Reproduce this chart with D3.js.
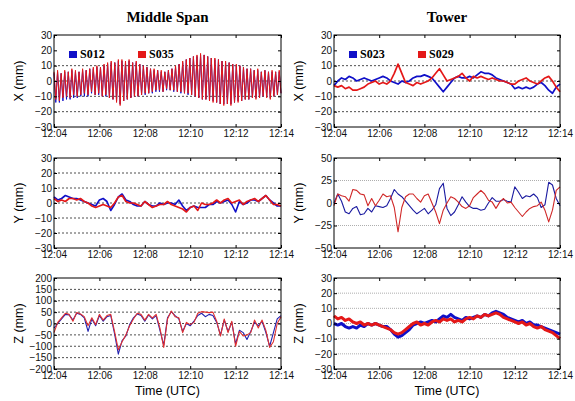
<!DOCTYPE html>
<html>
<head>
<meta charset="utf-8">
<script src="https://cdn.jsdelivr.net/npm/d3@7"></script>
<style>
  body { margin: 0; background: #fff; }
  .tick text { font-family: "Liberation Sans", Arial, sans-serif; font-size: 10px; fill: #111; }
  .tick line { stroke: #000; }
</style>
</head>
<body>
<div id="divChart"></div>
<script>
// time axis
var timeTicks = ["12:04", "12:06", "12:08", "12:10", "12:12", "12:14"];
var columnTitles = ["Middle Span", "Tower"];
var rowLabels = ["X (mm)", "Y (mm)", "Z (mm)"];
var legendNames = [["S012", "S035"], ["S023", "S029"]];

// Middle Span, X  (fast oscillation: peak / trough pairs)
var spanX_S012 = [5,-14, 6,-14, 5,-13, 6,-12, 6,-12, 7,-11, 6,-11, 6,-10, 7,-10, 7,-10,
  8,-8, 8,-9, 9,-9, 9,-10, 10,-10, 11,-11, 12,-12, 12,-13, 13,-15, 13,-13,
  12,-12, 13,-11, 12,-10, 12,-10, 11,-9, 10,-9, 9,-8, 8,-8, 7,-7, 7,-7,
  6,-7, 6,-6, 7,-6, 8,-7, 9,-7, 11,-8, 12,-8, 14,-9, 15,-9, 16,-10,
  16,-11, 17,-12, 17,-12, 16,-13, 15,-13, 14,-14, 14,-15, 13,-15, 12,-15, 12,-15,
  11,-14, 10,-13, 10,-13, 9,-12, 8,-12, 8,-11, 7,-11, 7,-11, 6,-10, 7,-10,
  6,-11, 6,-10, 6,-9, 6,-8];
var spanX_S035 = [6,-12, 7,-13, 5,-11, 7,-10, 6,-11, 8,-9, 7,-10, 6,-9, 8,-8, 7,-9,
  8,-7, 9,-9, 10,-8, 9,-10, 11,-9, 12,-11, 13,-12, 12,-14, 14,-16, 14,-13,
  13,-12, 14,-11, 12,-10, 13,-10, 11,-9, 10,-8, 9,-8, 8,-7, 8,-6, 7,-6,
  7,-7, 6,-5, 7,-6, 8,-6, 10,-7, 11,-7, 13,-8, 14,-8, 15,-9, 16,-10,
  17,-11, 18,-12, 17,-12, 16,-13, 15,-14, 15,-14, 14,-15, 13,-16, 13,-15, 12,-16,
  11,-14, 11,-14, 10,-13, 9,-12, 8,-12, 8,-11, 7,-12, 8,-11, 6,-10, 7,-11,
  6,-12, 7,-10, 6,-9, 7,-8];

// Tower, X
var towerX_S023 = [-3,0,2,1,3,2,0,1,2,1, 0,1,2,3,2,0,-1,-2,0,-1, 0,2,3,3,4,3,2,-1,-4,-7,
  -4,-1,2,3,2,2,3,2,4,6, 5,5,4,2,1,0,-1,-2,-5,-4, -5,-4,-5,-4,-2,-1,-3,-6,-8,-4, -2];
var towerX_S029 = [-3,-4,-3,-5,-4,-6,-6,-5,-4,-2, -1,0,-2,-1,-2,0,5,11,5,-1, -2,-3,-1,-2,-1,0,2,5,8,4,
  0,1,2,3,5,2,0,3,2,3, 2,1,2,1,0,0,-1,-2,-2,0, 1,2,0,-1,-2,0,2,3,0,-4, -7];

// Middle Span, Y
var spanY_S012 = [4,2,3,5,4,3,3,2,1,0, -1,-2,2,3,1,-5,-1,4,6,2, 1,-1,-2,-2,1,-1,-2,-2,0,-1,
  0,0,-1,2,-2,-5,-3,-2,-3,-3, -3,-1,-1,1,0,1,2,-1,-6,1, -1,0,2,2,1,3,5,2,0,-2, -2];
var spanY_S035 = [3,1,2,1,3,3,2,3,1,0, -2,-3,-2,-1,-2,-3,0,4,5,1, 0,0,-1,-2,1,-1,-3,-2,-1,-1,
  1,-1,-2,-3,-4,-6,-3,-2,-5,0, -1,-1,0,2,0,2,3,0,1,2, -1,1,2,3,1,3,5,2,-1,-1, -2];

// Tower, Y
var towerY_S023 = [0,10,2,-10,-12,-6,-4,-13,-12,-6, -10,-3,-4,-5,-3,5,15,10,7,2, -3,-8,-12,-9,-6,-12,-8,-2,16,22,
  -6,-14,-10,-2,7,1,-4,-6,-6,-8, -7,0,6,2,2,4,2,1,18,12, 5,8,7,10,6,-5,-2,23,20,5, -3];
var towerY_S029 = [-3,10,8,7,2,15,14,10,9,-3, 5,-3,3,10,7,8,-5,-32,-5,7, 10,10,5,1,8,10,0,-10,-23,-8,
  0,7,5,1,-4,-6,-3,6,10,14, 10,3,1,-6,1,5,0,1,-5,-10, -15,-10,-6,-4,-3,1,-8,-21,-8,14, 18];

// Middle Span, Z
var spanZ_S012 = [-20,0,20,40,38,15,45,40,25,-35, 20,-10,35,10,30,35,-45,-135,-75,-55, -5,25,42,35,10,38,20,35,-30,-95,
  25,52,35,20,-35,0,-10,10,35,45, 30,40,35,5,-50,15,-35,5,-90,-30, -40,-70,-35,5,-10,10,-40,-100,-40,20, 35];
var spanZ_S035 = [-40,5,25,45,40,10,48,42,30,-10, 25,-5,40,15,35,40,-35,-115,-80,-50, -10,20,45,40,15,40,25,40,-20,-105,
  20,55,30,25,-40,5,-5,5,45,52, 50,48,50,10,-55,20,-40,10,-100,-35, -55,-50,-40,15,-20,15,-30,-105,-80,0, 30];

// Tower, Z
var towerZ_S023 = [0,-1,0,-2,-3,-2,-3,-1,-2,0, -1,0,-1,-2,-2,-4,-7,-9,-8,-6, -4,-1,0,1,0,1,2,1,3,5,
  4,6,4,3,2,4,3,4,5,4, 6,5,7,8,7,6,4,3,2,1, 2,0,1,-1,-1,-2,-3,-4,-5,-6, -7];
var towerZ_S029 = [5,3,4,2,3,1,0,1,-1,0, -1,0,-1,-2,-3,-4,-6,-7,-6,-4, -2,0,1,-1,0,-1,1,2,1,3,
  2,3,1,2,1,3,4,3,5,4, 6,5,6,7,6,4,3,2,1,0, 1,-1,0,-2,-3,-2,-4,-5,-6,-8, -10];

// y ranges and ticks
var ticks30 = [-30, -20, -10, 0, 10, 20, 30];
var ticks50 = [-50, -25, 0, 25, 50];
var ticks200 = [-200, -150, -100, -50, 0, 50, 100, 150, 200];

function init()
{
    var width = 575, height = 401;
    var blue = "#1010c8", red = "#e41818";

    var svg = d3.select("#divChart").append("svg")
        .attr("width", width)
        .attr("height", height);

    var parseT = d3.timeParse("%H:%M");
    var tickDates = timeTicks.map(parseT);
    var t0 = tickDates[0], t1 = tickDates[tickDates.length - 1];

    var cols = [{x0: 54, x1: 281}, {x0: 334, x1: 560}];
    var rows = [{y0: 35, y1: 127}, {y0: 158, y1: 248}, {y0: 278, y1: 369}];

    var panels = [
        {c: 0, r: 0, dom: [-30, 30], ticks: ticks30, grid: [10, 0, -10, -20], gridColor: "#222", dash: "2,2",
         series: [{v: spanX_S012, col: blue, w: 1.0}, {v: spanX_S035, col: red, w: 1.0}]},
        {c: 1, r: 0, dom: [-30, 30], ticks: ticks30, grid: [10, 0, -10, -20], gridColor: "#222", dash: "2,2",
         series: [{v: towerX_S023, col: blue, w: 1.7}, {v: towerX_S029, col: red, w: 1.7}]},
        {c: 0, r: 1, dom: [-30, 30], ticks: ticks30, grid: [20, 10, 0, -10, -20], gridColor: "#222", dash: "2,2",
         series: [{v: spanY_S012, col: blue, w: 1.6}, {v: spanY_S035, col: red, w: 1.6}]},
        {c: 1, r: 1, dom: [-50, 50], ticks: ticks50, grid: [25, -25], gridColor: "#999", dash: "1,1",
         series: [{v: towerY_S023, col: "#1a1aa0", w: 1.1}, {v: towerY_S029, col: "#d02828", w: 1.1}]},
        {c: 0, r: 2, dom: [-200, 200], ticks: ticks200, grid: [150, 100, 50, 0, -50, -100, -150], gridColor: "#222", dash: "2,2",
         series: [{v: spanZ_S012, col: "#2020b0", w: 1.1}, {v: spanZ_S035, col: "#e03030", w: 1.1}]},
        {c: 1, r: 2, dom: [-30, 30], ticks: ticks30, grid: [20, 10, 0, -10, -20], gridColor: "#999", dash: "1,1",
         series: [{v: towerZ_S023, col: blue, w: 3.0}, {v: towerZ_S029, col: red, w: 3.0}]}
    ];

    panels.forEach(function(p)
    {
        var x0 = cols[p.c].x0, x1 = cols[p.c].x1;
        var y0 = rows[p.r].y0, y1 = rows[p.r].y1;
        var g = svg.append("g");

        var scaleX = d3.scaleTime().domain([t0, t1]).range([x0, x1]);
        var scaleY = d3.scaleLinear().domain(p.dom).range([y1, y0]);

        g.append("rect")
            .attr("x", x0).attr("y", y0)
            .attr("width", x1 - x0).attr("height", y1 - y0)
            .style("fill", "#fff");

        // dashed grid
        g.selectAll("line.grid-line").data(p.grid).join("line")
            .classed("grid-line", true)
            .attr("x1", x0).attr("x2", x1)
            .attr("y1", function(d){ return scaleY(d); })
            .attr("y2", function(d){ return scaleY(d); })
            .style("stroke", p.gridColor)
            .style("stroke-width", 0.8)
            .style("stroke-dasharray", p.dash);

        // series, blue under red
        p.series.forEach(function(s)
        {
            var n = s.v.length;
            var line = d3.line()
                .x(function(d, i){ return scaleX(new Date(+t0 + i * (t1 - t0) / (n - 1))); })
                .y(function(d){ return scaleY(d); });
            g.append("path")
                .attr("d", line(s.v))
                .style("fill", "none")
                .style("stroke", s.col)
                .style("stroke-width", s.w)
                .style("stroke-linejoin", "round");
        });

        // axes, MATLAB style ticks pointing inside
        g.append("g")
            .attr("transform", "translate(0," + y1 + ")")
            .call(d3.axisBottom(scaleX).tickValues(tickDates).tickFormat(d3.timeFormat("%H:%M"))
                .tickSizeInner(-3).tickSizeOuter(0).tickPadding(3))
            .call(function(a){ a.select(".domain").remove(); });
        g.append("g")
            .attr("transform", "translate(0," + y0 + ")")
            .call(d3.axisTop(scaleX).tickValues(tickDates).tickFormat("")
                .tickSizeInner(-3).tickSizeOuter(0))
            .call(function(a){ a.select(".domain").remove(); });
        g.append("g")
            .attr("transform", "translate(" + x0 + ",0)")
            .call(d3.axisLeft(scaleY).tickValues(p.ticks)
                .tickSizeInner(-3).tickSizeOuter(0).tickPadding(2))
            .call(function(a){ a.select(".domain").remove(); });
        g.append("g")
            .attr("transform", "translate(" + x1 + ",0)")
            .call(d3.axisRight(scaleY).tickValues(p.ticks).tickFormat("")
                .tickSizeInner(-3).tickSizeOuter(0))
            .call(function(a){ a.select(".domain").remove(); });

        g.append("rect")
            .attr("x", x0).attr("y", y0)
            .attr("width", x1 - x0).attr("height", y1 - y0)
            .style("fill", "none")
            .style("stroke", "#000")
            .style("stroke-width", 1);

        // y label
        g.append("text")
            .attr("transform", "translate(" + (x0 - 31) + "," + ((y0 + y1) / 2) + ") rotate(-90)")
            .attr("text-anchor", "middle")
            .style("font-family", "Liberation Sans, Arial, sans-serif")
            .style("font-size", "12.5px")
            .text(rowLabels[p.r]);

        if (p.r === 0)
        {
            // column title
            g.append("text")
                .attr("x", (x0 + x1) / 2).attr("y", 22)
                .attr("text-anchor", "middle")
                .style("font-family", "Liberation Serif, Times New Roman, serif")
                .style("font-weight", "bold")
                .style("font-size", "15px")
                .text(columnTitles[p.c]);

            // legend
            var names = legendNames[p.c];
            [blue, red].forEach(function(col, k)
            {
                var lx = x0 + 15 + k * 69;
                g.append("rect")
                    .attr("x", lx).attr("y", y0 + 16)
                    .attr("width", 8).attr("height", 7)
                    .style("fill", col);
                g.append("text")
                    .attr("x", lx + 11).attr("y", y0 + 23)
                    .style("font-family", "Liberation Serif, Times New Roman, serif")
                    .style("font-weight", "bold")
                    .style("font-size", "12px")
                    .text(names[k]);
            });
        }

        if (p.r === 2)
        {
            g.append("text")
                .attr("x", (x0 + x1) / 2).attr("y", 395)
                .attr("text-anchor", "middle")
                .style("font-family", "Liberation Sans, Arial, sans-serif")
                .style("font-size", "12.5px")
                .text("Time (UTC)");
        }
    });
}

window.onload = init;
</script>
</body>
</html>
